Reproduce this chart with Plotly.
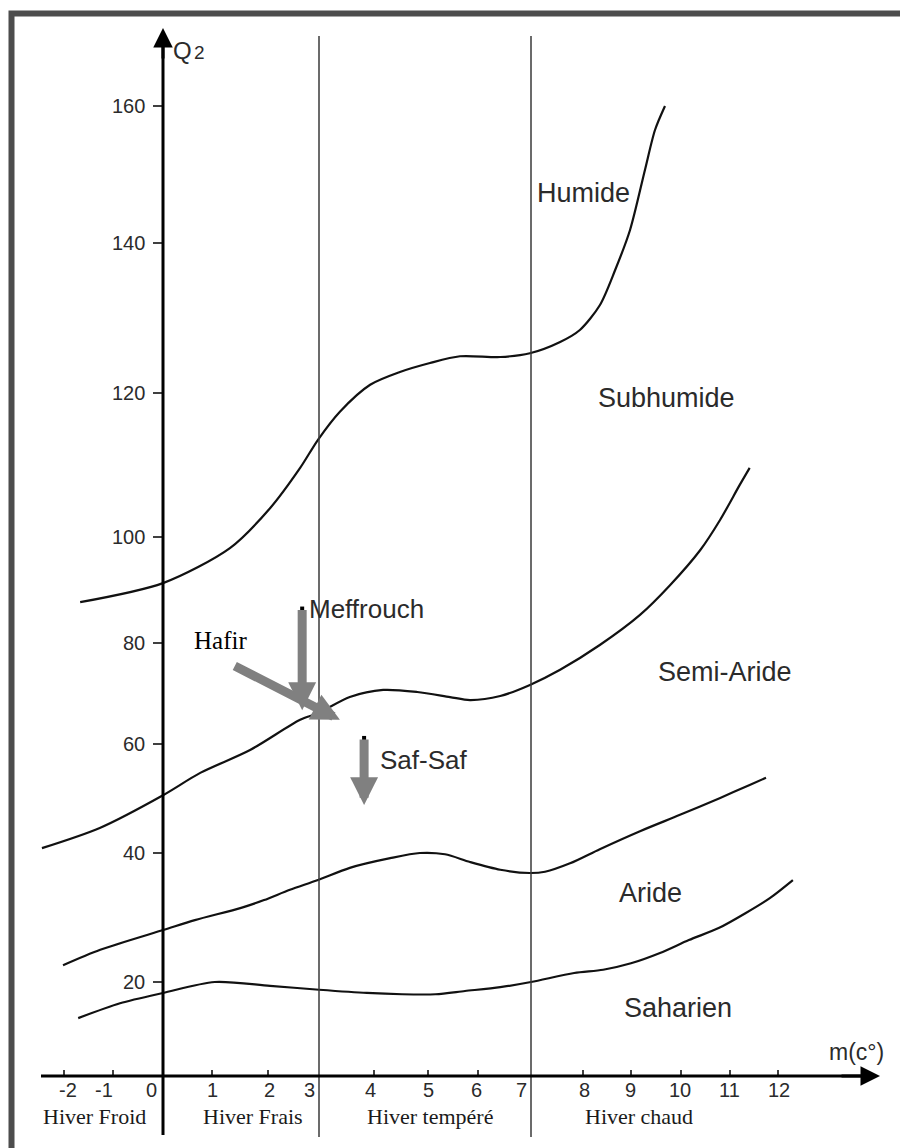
import numpy as np
import plotly.graph_objects as go

# ---------------------------------------------------------------
# Emberger climagram: Q2 against m (mean minimum of coldest month)
# ---------------------------------------------------------------

# Hand-drawn graduation of both axes (tick value -> drawn position)
X_TICKS = [-2, -1, 0, 1, 2, 3, 4, 5, 6, 7, 8, 9, 10, 11, 12]
X_TICK_POS = [64, 113, 163, 212, 268, 319, 374, 428, 478, 531, 583, 631, 681, 730, 778]
Y_TICKS = [20, 40, 60, 80, 100, 120, 140, 160]
Y_TICK_POS = [982, 853, 744, 643, 537, 393, 243, 106]

# Tick label text and small horizontal offsets of the printed labels
X_LABELS = ["-2", "-1", "0", "1", "2", "3", "4", "5", "6", "7", "8", "9", "10", "11", "12"]
X_LABEL_SHIFT = [4, -9, -12, 0, 1, -10, -4, 0, -2, -10, 1, -1, -1, -1, 1]
Y_LABELS = ["20", "40", "60", "80", "100", "120", "140", "160"]

# Winter classes
WINTER_CLASSES = ["Hiver Froid", "Hiver Frais", "Hiver tempéré", "Hiver chaud"]
CLASS_LIMITS = [0, 3, 7]

# Bioclimatic boundary curves (m in °C, Q2)
M_HUMIDE = [-1.67, 0.0, 1.32, 2.04, 2.63, 2.98, 3.38, 3.93, 4.48, 5.04, 5.64,
            6.42, 6.98, 7.56, 7.94, 8.35, 8.67, 8.98, 9.28, 9.48, 9.68]
Q_HUMIDE = [87.7, 91.3, 97.9, 104.0, 109.6, 113.5, 117.4, 121.1, 122.8, 124.0, 124.9,
            124.8, 125.3, 126.8, 128.4, 131.7, 136.4, 141.9, 150.7, 156.5, 160.0]

M_SUBHUMIDE = [-2.45, -1.27, 0.0, 0.76, 1.68, 2.63, 2.98, 3.56, 4.17, 4.8, 5.44,
               5.84, 6.42, 6.98, 7.56, 8.35, 9.18, 9.78, 10.39, 10.8, 11.2, 11.41]
Q_SUBHUMIDE = [40.9, 44.6, 50.6, 54.7, 58.9, 64.8, 66.1, 69.3, 70.7, 70.3, 69.3,
               68.7, 69.5, 71.7, 74.7, 79.6, 85.3, 90.9, 97.5, 102.4, 107.2, 109.6]

M_ARIDE = [-2.02, -1.26, 0.02, 0.65, 1.52, 1.93, 2.43, 2.98, 3.56, 4.3, 4.85, 5.34,
           5.84, 6.42, 6.98, 7.27, 7.75, 8.35, 9.18, 9.98, 10.8, 11.41, 11.75]
Q_ARIDE = [22.6, 25.0, 28.1, 29.6, 31.5, 32.7, 34.3, 35.8, 37.7, 39.2, 40.0, 39.8,
           38.6, 37.4, 36.9, 37.1, 38.4, 40.7, 44.0, 47.0, 50.1, 52.5, 53.8]

M_SAHARIEN = [-1.71, -0.86, 0.0, 1.05, 2.04, 3.0, 3.87, 4.52, 5.15, 5.74, 6.42,
              7.0, 7.83, 8.42, 9.0, 9.58, 10.16, 10.78, 11.33, 11.83, 12.31]
Q_SAHARIEN = [14.4, 16.7, 18.3, 20.0, 19.4, 18.8, 18.3, 18.1, 18.1, 18.6, 19.2,
              20.0, 21.4, 21.9, 22.9, 24.5, 26.5, 28.4, 30.7, 33.0, 35.8]

# Stations: shift of each station (start -> end) in the diagram
STATIONS = ["Meffrouch", "Hafir", "Saf-Saf"]
STATION_M_START = [2.67, 1.38, 3.82]
STATION_Q_START = [86.5, 75.6, 61.2]
STATION_M_END = [2.67, 3.38, 3.82]
STATION_Q_END = [66.7, 64.8, 48.8]


def graduate(values, ticks, pos):
    """Map values onto the uneven graduation, extending the end segments."""
    v = np.asarray(values, dtype=float)
    out = np.interp(v, ticks, pos)
    lo = v < ticks[0]
    hi = v > ticks[-1]
    out[lo] = pos[0] + (v[lo] - ticks[0]) * (pos[1] - pos[0]) / (ticks[1] - ticks[0])
    out[hi] = pos[-1] + (v[hi] - ticks[-1]) * (pos[-1] - pos[-2]) / (ticks[-1] - ticks[-2])
    return out


def sx(m):
    return graduate(m, X_TICKS, X_TICK_POS)


def sy(q):
    return graduate(q, Y_TICKS, Y_TICK_POS)


W, H = 900, 1148
AXIS_Y = 1076          # drawn position of the m axis
AXIS_X = float(sx([0])[0])
SANS = "Liberation Sans, Arial, sans-serif"
SERIF = "Liberation Serif, Times New Roman, serif"
TXT = "#2b2b2b"

fig = go.Figure()

# Boundary curves
for m, q in [(M_HUMIDE, Q_HUMIDE), (M_SUBHUMIDE, Q_SUBHUMIDE),
             (M_ARIDE, Q_ARIDE), (M_SAHARIEN, Q_SAHARIEN)]:
    fig.add_trace(go.Scatter(
        x=sx(m), y=sy(q), mode="lines",
        line=dict(color="#111111", width=2.2, shape="spline", smoothing=0.8),
        hoverinfo="skip"))

shapes = []
annotations = []

# Frame (cut on the right and at the bottom)
shapes.append(dict(type="rect", xref="x", yref="y", x0=11.5, y0=13.5, x1=W + 20, y1=H + 20,
                   line=dict(color="#4d4d4d", width=6), fillcolor="rgba(0,0,0,0)", layer="above"))

# Winter class separators at m = 3 and m = 7
for lim in CLASS_LIMITS[1:]:
    xv = float(sx([lim])[0])
    shapes.append(dict(type="line", xref="x", yref="y", x0=xv, x1=xv, y0=36, y1=1137,
                       line=dict(color="#3a3a3a", width=1.5)))

# Y axis continues below the m axis as the first separator
shapes.append(dict(type="line", xref="x", yref="y", x0=AXIS_X, x1=AXIS_X, y0=40, y1=1135,
                   line=dict(color="black", width=3)))
# m axis
shapes.append(dict(type="line", xref="x", yref="y", x0=41, x1=866, y0=AXIS_Y, y1=AXIS_Y,
                   line=dict(color="black", width=3)))

# Axis arrows
annotations.append(dict(x=AXIS_X, y=28, ax=AXIS_X, ay=60, xref="x", yref="y", axref="x", ayref="y",
                        text="", showarrow=True, arrowhead=2, arrowsize=1.3, arrowwidth=3,
                        arrowcolor="black", standoff=0))
annotations.append(dict(x=880, y=AXIS_Y, ax=840, ay=AXIS_Y, xref="x", yref="y", axref="x", ayref="y",
                        text="", showarrow=True, arrowhead=2, arrowsize=1.3, arrowwidth=3,
                        arrowcolor="black", standoff=0))

# Y ticks and labels
for q, lab in zip(Y_TICKS, Y_LABELS):
    yv = float(sy([q])[0])
    shapes.append(dict(type="line", xref="x", yref="y", x0=AXIS_X - 10, x1=AXIS_X, y0=yv, y1=yv,
                       line=dict(color="black", width=1.5)))
    annotations.append(dict(x=AXIS_X - 16, y=yv, xref="x", yref="y", text=lab, showarrow=False,
                            xanchor="right", yanchor="middle",
                            font=dict(family=SANS, size=20, color=TXT)))

# X ticks and labels
for m, lab, dx in zip(X_TICKS, X_LABELS, X_LABEL_SHIFT):
    xv = float(sx([m])[0])
    if m not in CLASS_LIMITS:
        shapes.append(dict(type="line", xref="x", yref="y", x0=xv, x1=xv, y0=AXIS_Y - 6, y1=AXIS_Y,
                           line=dict(color="black", width=1.5)))
    annotations.append(dict(x=xv + dx, y=1090, xref="x", yref="y", text=lab, showarrow=False,
                            xanchor="center", yanchor="middle",
                            font=dict(family=SANS, size=20, color=TXT)))

# Axis titles
annotations.append(dict(x=171, y=50, xref="x", yref="y", text="Q", showarrow=False,
                        xanchor="left", yanchor="middle", font=dict(family=SANS, size=24, color=TXT)))
annotations.append(dict(x=192, y=52, xref="x", yref="y", text="2", showarrow=False,
                        xanchor="left", yanchor="middle", font=dict(family=SANS, size=19, color=TXT)))
annotations.append(dict(x=856, y=1052, xref="x", yref="y", text="m(c°)", showarrow=False,
                        xanchor="center", yanchor="middle", font=dict(family=SANS, size=23, color=TXT)))

# Winter class names
class_centres = [94, 253, 430, 639]
for name, cx in zip(WINTER_CLASSES, class_centres):
    annotations.append(dict(x=cx, y=1116, xref="x", yref="y", text=name, showarrow=False,
                            xanchor="center", yanchor="middle",
                            font=dict(family=SERIF, size=22, color="#1a1a1a")))

# Bioclimatic zone names
zones = [("Humide", 583, 193), ("Subhumide", 666, 398), ("Semi-Aride", 725, 672),
         ("Aride", 650, 893), ("Saharien", 678, 1008)]
for name, zx, zy in zones:
    annotations.append(dict(x=zx, y=zy, xref="x", yref="y", text=name, showarrow=False,
                            xanchor="center", yanchor="middle",
                            font=dict(family=SANS, size=27, color=TXT)))

# Station shifts (grey arrows)
xs0, ys0 = sx(STATION_M_START), sy(STATION_Q_START)
xs1, ys1 = sx(STATION_M_END), sy(STATION_Q_END)
for i in range(len(STATIONS)):
    annotations.append(dict(x=float(xs1[i]), y=float(ys1[i]), ax=float(xs0[i]), ay=float(ys0[i]),
                            xref="x", yref="y", axref="x", ayref="y", text="", showarrow=True,
                            arrowhead=2, arrowsize=0.62, arrowwidth=9, arrowcolor="#808080",
                            standoff=0))
fig.add_trace(go.Scatter(x=[xs0[0], xs0[2]], y=[ys0[0], ys0[2]], mode="markers",
                         marker=dict(color="black", size=4, symbol="square"), hoverinfo="skip"))

# Station names
annotations.append(dict(x=307, y=609, xref="x", yref="y", text="Meffrouch", showarrow=False,
                        xanchor="left", yanchor="middle", font=dict(family=SANS, size=26, color=TXT)))
annotations.append(dict(x=192, y=640, xref="x", yref="y", text="Hafir", showarrow=False,
                        xanchor="left", yanchor="middle", font=dict(family=SERIF, size=25, color="black")))
annotations.append(dict(x=378, y=760, xref="x", yref="y", text="Saf-Saf", showarrow=False,
                        xanchor="left", yanchor="middle", font=dict(family=SANS, size=26, color=TXT)))

fig.update_layout(
    width=W, height=H,
    margin=dict(l=0, r=0, t=0, b=0),
    paper_bgcolor="white", plot_bgcolor="white",
    showlegend=False,
    xaxis=dict(range=[0, W], visible=False, fixedrange=True),
    yaxis=dict(range=[H, 0], visible=False, fixedrange=True),
    shapes=shapes,
    annotations=annotations,
)

fig.write_html("out.html")
